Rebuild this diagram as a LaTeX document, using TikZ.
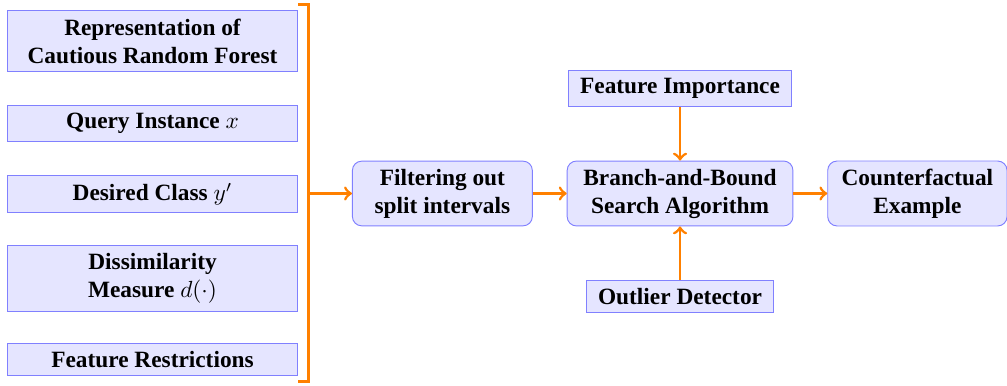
\documentclass[tikz,border=0pt]{standalone}
\usepackage{fontspec}
\setmainfont{Liberation Serif}
\usetikzlibrary{positioning}

\tikzset{
  inbox/.style={draw=blue!50, fill=blue!10, font=\bfseries, align=center, minimum width=4.38cm},
  procbox/.style={draw=blue!50, fill=blue!10, font=\bfseries, align=center, rounded corners},
  flow/.style={->, very thick, orange}
}

\begin{document}
\begin{tikzpicture}
  \useasboundingbox (0,0) rectangle (15.165,-5.798);
  \node[inbox] (rep) at (2.297,-0.617) {Representation of\\Cautious Random Forest};
  \node[inbox] (query) at (2.297,-1.860) {Query Instance $x$};
  \node[inbox] (cls) at (2.297,-2.922) {Desired Class $y'$};
  \node[inbox] (dis) at (2.297,-4.197) {Dissimilarity\\Measure $d(\cdot)$};
  \node[inbox] (res) at (2.297,-5.414) {Feature Restrictions};
  % bracket collecting the inputs
  \coordinate (btop) at (4.65,-0.065);
  \coordinate (bbot) at (4.65,-5.745);
  \coordinate (bmid) at (4.65,-2.914);
  \draw[very thick, orange] (rep.east |- btop) -- (btop) -- (bbot) -- (rep.east |- bbot);
  \node[procbox, minimum width=2.71cm, right=0.65cm of bmid] (filt) {Filtering out\\split intervals};
  \node[procbox, minimum width=3.40cm, right=0.51cm of filt] (bnb) {Branch-and-Bound\\Search Algorithm};
  \node[procbox, minimum width=2.70cm, right=0.51cm of bnb] (cf) {Counterfactual\\Example};
  \node[inbox, minimum width=3.36cm, above=0.81cm of bnb] (imp) {Feature Importance};
  \node[inbox, minimum width=2.82cm, below=0.81cm of bnb] (out) {Outlier Detector};
  \path[flow]
    (bmid) edge (filt)
    (filt) edge (bnb)
    (bnb) edge (cf)
    (imp) edge (bnb)
    (out) edge (bnb);
\end{tikzpicture}
\end{document}
